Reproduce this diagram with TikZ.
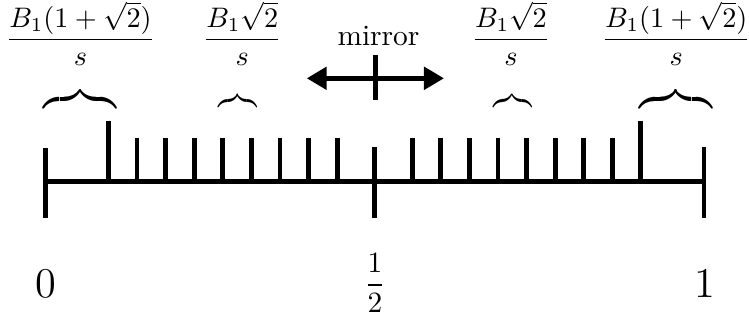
\documentclass[tikz,border=0pt]{standalone}
\usepackage{amsmath}
\usetikzlibrary{arrows.meta}
\begin{document}
\begin{tikzpicture}[x=0.34pt,y=-0.34pt,
  axisline/.style={line width=1.7pt},
  tickline/.style={line width=1.6pt},
  lbl/.style={inner sep=0pt, anchor=base},
  fraclbl/.style={lbl, scale=0.96},
  bracebox/.style={inner sep=0pt, anchor=south},
  bigbrace/.style={bracebox, scale=1.2},
  smallbrace/.style={bracebox, xscale=0.72, yscale=0.85},
  tipL/.style={{Triangle[length=6.8pt,width=7.5pt]}-{Triangle[length=6.8pt,width=7.5pt]}}]
\useasboundingbox (0,0) rectangle (749,322);
% axis
\coordinate (L) at (45.5,182);
\coordinate (M) at (374.75,182);
\coordinate (R) at (704,182);
\draw[axisline] (L) -- (R);
% end and middle ticks
\coordinate (Lt) at (45.5,148); \coordinate (Lb) at (45.5,218);
\coordinate (Mt) at (374.75,147); \coordinate (Mb) at (374.75,218);
\coordinate (Rt) at (704,147); \coordinate (Rb) at (704,218);
\draw[tickline] (Lt) -- (Lb);
\draw[tickline] (Mt) -- (Mb);
\draw[tickline] (Rt) -- (Rb);
% short ticks
\foreach \k in {0,...,7} {
  \coordinate (lt\k) at ({374.75-37.5-28.6*\k},138);
  \coordinate (lb\k) at ({374.75-37.5-28.6*\k},182);
  \coordinate (rt\k) at ({374.75+37.5+28.6*\k},138);
  \coordinate (rb\k) at ({374.75+37.5+28.6*\k},182);
  \draw[tickline] (lt\k) -- (lb\k);
  \draw[tickline] (rt\k) -- (rb\k);
}
% tall ticks
\coordinate (ltT) at (108.7,121); \coordinate (lbT) at (108.7,182);
\coordinate (rtT) at (640.8,121); \coordinate (rbT) at (640.8,182);
\draw[tickline] (ltT) -- (lbT);
\draw[tickline] (rtT) -- (rbT);
% axis labels
\node[lbl, font=\Large] (zero) at (45.7,297.5) {0};
\node[lbl, font=\Large] (one) at (705,297.5) {1};
\node[lbl] (half) at (375,292.4) {$\dfrac{1}{2}$};
% mirror
\node[lbl] (mirror) at (378.5,45) {mirror};
\coordinate (mL) at (306.7,78.3);
\coordinate (mR) at (444,78.3);
\draw[line width=1.8pt, tipL] (mL) -- (mR);
\coordinate (mT) at (376,55);
\coordinate (mB) at (376,100);
\draw[line width=1.7pt] (mT) -- (mB);
% fractions
\node[fraclbl] (f1) at (80.5,46.2) {$\dfrac{B_1(1+\sqrt{2})}{s}$};
\node[fraclbl] (f2) at (242.3,46.2) {$\dfrac{B_1\sqrt{2}}{s}$};
\node[fraclbl] (f3) at (511,46.2) {$\dfrac{B_1\sqrt{2}}{s}$};
\node[fraclbl] (f4) at (676.3,46.2) {$\dfrac{B_1(1+\sqrt{2})}{s}$};
% braces
\node[bigbrace] (b1) at (80,102.1) {\hbox to 20.4pt{\downbracefill}};
\node[smallbrace] (b2) at (238,103.5) {\hbox to 18pt{\downbracefill}};
\node[smallbrace] (b3) at (512.5,103.5) {\hbox to 18pt{\downbracefill}};
\node[bigbrace] (b4) at (676,102.1) {\hbox to 20.8pt{\downbracefill}};
\end{tikzpicture}
\end{document}
